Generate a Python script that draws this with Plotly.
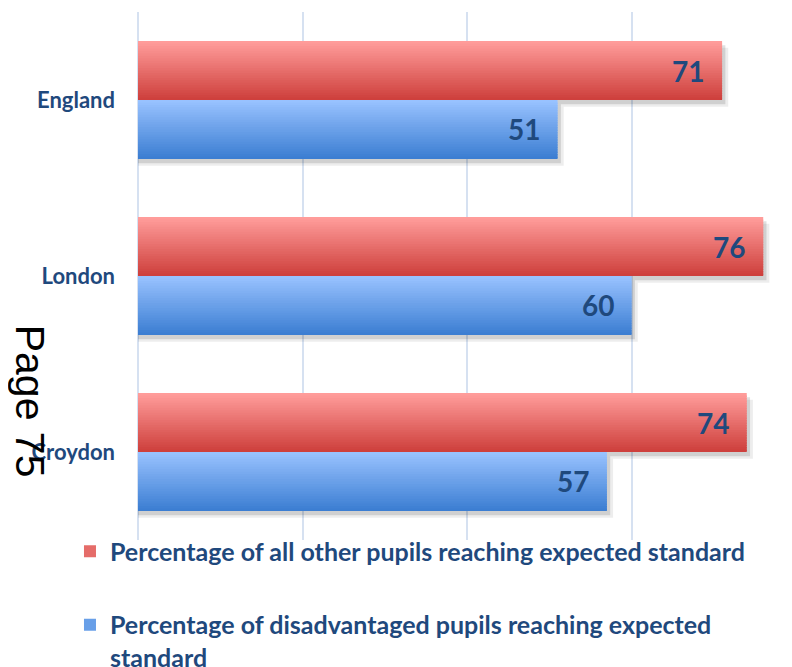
import plotly.graph_objects as go

categories = ["England", "London", "Croydon"]
other_pupils = [71, 76, 74]
disadvantaged_pupils = [51, 60, 57]
x_gridlines = [0, 20, 40, 60, 80]
series_names = [
    "Percentage of all other pupils reaching expected standard",
    "Percentage of disadvantaged pupils reaching expected<br>standard",
]

TEXT_COLOR = "#1f497d"
FONT = "Lato"
BAR_W = 0.335
N_SLICES = 24
SHADOW_DY = 0.024

red_top, red_bot = (255, 156, 154), (206, 64, 61)
blue_top, blue_bot = (152, 194, 255), (60, 126, 210)


def mix(c1, c2, t):
    return "rgb(%d,%d,%d)" % tuple(round(a + (b - a) * t) for a, b in zip(c1, c2))


ypos = list(range(len(categories)))
fig = go.Figure()

# shadows
for vals, start in [(other_pupils, -BAR_W), (disadvantaged_pupils, 0.0)]:
    for extra, dy, alpha in [(0.75, SHADOW_DY * 1.6, 0.07), (0.4, SHADOW_DY, 0.12)]:
        fig.add_trace(go.Bar(
            x=[v + extra for v in vals], y=ypos, orientation="h",
            width=BAR_W, offset=start + dy,
            marker=dict(color="rgba(0,0,0,%s)" % alpha, line=dict(width=0)),
            showlegend=False, hoverinfo="skip",
        ))

# gradient bars
series = [
    (other_pupils, -BAR_W, red_top, red_bot, series_names[0], "g1"),
    (disadvantaged_pupils, 0.0, blue_top, blue_bot, series_names[1], "g2"),
]
w = BAR_W / N_SLICES
for vals, start, ctop, cbot, name, grp in series:
    for k in range(N_SLICES):
        t = k / (N_SLICES - 1)
        width = w if k == N_SLICES - 1 else w * 1.6
        fig.add_trace(go.Bar(
            x=vals, y=ypos, orientation="h",
            width=width, offset=start + k * w,
            marker=dict(color=mix(ctop, cbot, t), line=dict(width=0)),
            name=name, legendgroup=grp,
            showlegend=(k == N_SLICES // 2),
            hoverinfo="skip",
        ))

# value labels
annotations = []
for vals, start in [(other_pupils, -BAR_W), (disadvantaged_pupils, 0.0)]:
    for i, v in enumerate(vals):
        annotations.append(dict(
            x=v, y=i + start + BAR_W / 2, xref="x", yref="y",
            text=str(v), showarrow=False, xanchor="right", yanchor="middle",
            xshift=-16, font=dict(family=FONT, size=28, color=TEXT_COLOR, weight="bold"),
        ))

annotations.append(dict(
    x=-0.166, y=0.263, xref="paper", yref="paper", text="Page 75",
    showarrow=False, textangle=90, xanchor="center", yanchor="middle",
    font=dict(family="Liberation Sans", size=41, color="#000000"),
))

fig.update_layout(
    width=784, height=659,
    margin=dict(l=130, r=0, t=4, b=127, autoexpand=False),
    paper_bgcolor="white", plot_bgcolor="white",
    barmode="overlay",
    font=dict(family=FONT, color=TEXT_COLOR),
    xaxis=dict(
        range=[0, 79.5], tickvals=x_gridlines, showticklabels=False,
        showgrid=True, gridcolor="#d6e1f1", gridwidth=1.5,
        zeroline=True, zerolinecolor="#d6e1f1", zerolinewidth=1.5,
        showline=False, fixedrange=True,
    ),
    yaxis=dict(
        range=[2.5, -0.5], tickvals=ypos, ticktext=categories,
        showgrid=False, zeroline=False, showline=False,
        ticks="", ticklabelstandoff=22,
        tickfont=dict(family=FONT, size=22, color=TEXT_COLOR, weight="bold"),
    ),
    legend=dict(
        x=-0.104, y=0.022, xanchor="left", yanchor="top",
        orientation="v", traceorder="grouped", tracegroupgap=38,
        valign="top",
        font=dict(family=FONT, size=25, color=TEXT_COLOR, weight="bold"),
        bgcolor="rgba(0,0,0,0)",
    ),
    annotations=annotations,
)

fig.write_html("out.html")
